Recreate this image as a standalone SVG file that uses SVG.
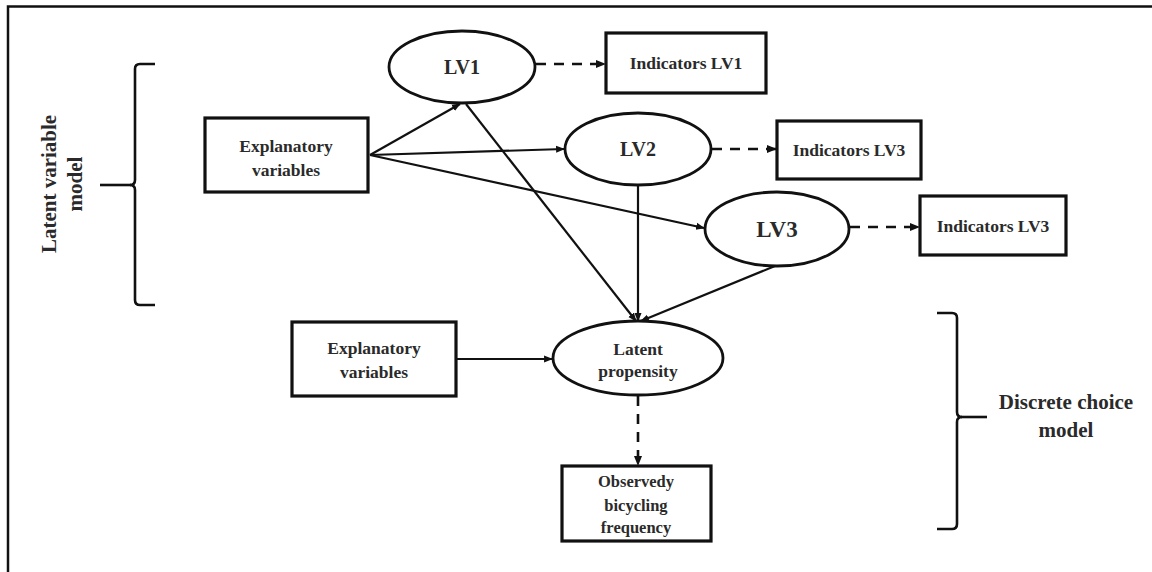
<svg xmlns="http://www.w3.org/2000/svg" width="1152" height="572" viewBox="0 0 1152 572">
<defs>
<marker id="ah" viewBox="0 0 10 10" refX="9" refY="5" markerWidth="4" markerHeight="4" orient="auto" markerUnits="strokeWidth">
<path d="M0,1 L10,5 L0,9 z" fill="#111"/>
</marker>
<style>
.box{fill:#fff;stroke:#111;stroke-width:3.2}
.ell{fill:#fff;stroke:#111;stroke-width:2.8}
.t{font-family:"Liberation Serif","Times New Roman",serif;font-weight:bold;fill:#2a2a2a;text-anchor:middle}
.s{font-size:17.5px}
.lv{font-size:20px}
.c{fill:none;stroke:#111;stroke-width:2.2;marker-end:url(#ah)}
.d{fill:none;stroke:#111;stroke-width:2.6;stroke-dasharray:10 8;marker-end:url(#ah)}
.br{fill:none;stroke:#111;stroke-width:2.6}
</style>
</defs>
<rect width="1152" height="572" fill="#fff"/>
<path d="M8,580 L8,6.5 L1160,6.5" fill="none" stroke="#111" stroke-width="2.5"/>

<g id="connectors">
<line class="c" x1="370" y1="155" x2="460" y2="104"/>
<line class="c" x1="370" y1="155" x2="564" y2="149"/>
<line class="c" x1="370" y1="155" x2="704" y2="228"/>
<line class="c" x1="466" y1="104" x2="636" y2="321"/>
<line class="c" x1="638" y1="186" x2="638" y2="321"/>
<line class="c" x1="775" y1="266" x2="641" y2="321"/>
<line class="c" x1="456" y1="359" x2="552" y2="359"/>
<line class="d" x1="536" y1="64" x2="605" y2="64"/>
<line class="d" x1="712" y1="149" x2="776" y2="149"/>
<line class="d" x1="850" y1="227" x2="919" y2="227"/>
<line class="d" x1="638" y1="396" x2="638" y2="465"/>
</g>

<g id="bracket-left">
<path class="br" d="M155,64 L140,64 Q135,64 135,69 L135,180 Q135,185 130,185 Q135,185 135,190 L135,300 Q135,305 140,305 L155,305"/>
<line class="br" x1="100" y1="185" x2="131" y2="185"/>
<text class="t" font-size="21" transform="translate(56,184) rotate(-90)">Latent variable</text>
<text class="t" font-size="21" transform="translate(82,184) rotate(-90)">model</text>
</g>

<g id="bracket-right">
<path class="br" d="M937,313 L952,313 Q957,313 957,318 L957,412 Q957,417 962,417 Q957,417 957,422 L957,524 Q957,529 952,529 L937,529"/>
<line class="br" x1="961" y1="417" x2="987" y2="417"/>
<text class="t" font-size="21" x="1066" y="409">Discrete choice</text>
<text class="t" font-size="21" x="1066" y="437">model</text>
</g>

<g id="lv1">
<ellipse class="ell" cx="462" cy="67" rx="73" ry="36"/>
<text class="t lv" x="462" y="74">LV1</text>
</g>
<g id="ind-lv1">
<rect class="box" x="606" y="33" width="160" height="60"/>
<text class="t s" x="686" y="69">Indicators LV1</text>
</g>
<g id="explanatory-1">
<rect class="box" x="205" y="118" width="163" height="74"/>
<text class="t s" x="286" y="152">Explanatory</text>
<text class="t s" x="286" y="176">variables</text>
</g>
<g id="lv2">
<ellipse class="ell" cx="638" cy="149" rx="73" ry="36"/>
<text class="t lv" x="638" y="156">LV2</text>
</g>
<g id="ind-lv2">
<rect class="box" x="777" y="121" width="144" height="58"/>
<text class="t s" x="849" y="156">Indicators LV3</text>
</g>
<g id="lv3">
<ellipse class="ell" cx="777" cy="229" rx="72" ry="37"/>
<text class="t" font-size="23" x="777" y="237">LV3</text>
</g>
<g id="ind-lv3">
<rect class="box" x="920" y="196" width="146" height="59"/>
<text class="t s" x="993" y="232">Indicators LV3</text>
</g>
<g id="explanatory-2">
<rect class="box" x="292" y="322" width="164" height="74"/>
<text class="t s" x="374" y="354">Explanatory</text>
<text class="t s" x="374" y="378">variables</text>
</g>
<g id="latent-propensity">
<ellipse class="ell" cx="638" cy="358" rx="85" ry="37"/>
<text class="t s" x="638" y="355">Latent</text>
<text class="t s" x="638" y="377">propensity</text>
</g>
<g id="observed">
<rect class="box" x="562" y="466" width="149" height="75"/>
<text class="t" font-size="16.5" x="636" y="487">Observedy</text>
<text class="t" font-size="16.5" x="636" y="511">bicycling</text>
<text class="t" font-size="16.5" x="636" y="533">frequency</text>
</g>
</svg>
